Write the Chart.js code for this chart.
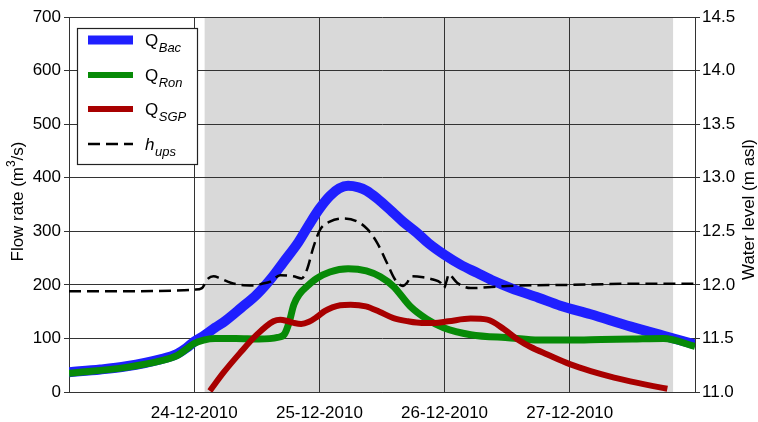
<!DOCTYPE html>
<html>
<head>
<meta charset="utf-8">
<script src="https://cdn.jsdelivr.net/npm/chart.js@4/dist/chart.umd.min.js"></script>
<style>
  html, body { margin: 0; padding: 0; background: #fff; }
  #wrap { width: 758px; height: 422px; }
</style>
</head>
<body>
<div id="wrap"><canvas id="c" width="758" height="422"></canvas></div>
<script>
// Time axis: hours since 23-12-2010 00:00
const dayTicks = [0, 24, 48, 72, 96, 120];
const dayLabels = ['', '24-12-2010', '25-12-2010', '26-12-2010', '27-12-2010', ''];
const eventWindow = [26, 115.8]; // shaded period (hours)

// Discharge of the Bacchiglione (m3/s)
const hoursBac = [0, 6, 11, 17.5, 20.7, 22.5, 24, 26, 28, 30, 33, 36, 39, 41, 44, 46, 48, 50, 51.8, 53.5, 55.5, 57, 59, 62, 64, 66.7, 69, 72, 75, 78.3, 81, 84.7, 90, 94.2, 100, 107.7, 114, 120];
const flowBac  = [37, 42, 48, 61, 71, 82, 94, 106, 120, 133, 157, 182, 215, 241, 280, 312, 342, 366, 380, 385, 382, 376, 362, 336, 318, 297, 277, 256, 238, 222, 209, 194, 176, 161, 145, 122, 105, 89];

// Discharge of the Roncajette (m3/s)
const hoursRon = [0, 11, 17.5, 20.7, 22.5, 23.9, 25.8, 28, 32, 36.4, 40, 41.3, 42.2, 43.1, 44.2, 45.6, 47.5, 50, 53.5, 57, 59.7, 62.2, 65.4, 68.6, 71.8, 77, 84.7, 90, 96, 102, 108, 114, 120];
const flowRon  = [35, 46, 58, 68, 80, 90, 97, 100, 100, 99, 102, 108, 130, 163, 183, 197, 212, 224, 230, 226, 215, 197, 160, 136, 120, 107, 101, 97, 97, 98, 99, 100, 85];

// Discharge through the San Gregorio diversion (m3/s)
const hoursSGP = [27, 29.6, 32.8, 36, 39.2, 40.5, 42, 43.1, 44.5, 46, 47.5, 49, 50.5, 52, 54, 56.9, 59.5, 62.2, 65, 67.6, 70, 72.7, 77, 80.2, 83.4, 86, 88.5, 91.7, 96, 100, 104.5, 109, 112, 114.7];
const flowSGP  = [2, 36, 73, 107, 132, 135, 132, 129, 127, 131, 140, 151, 158, 162, 163, 160, 150, 138, 132, 129, 129, 132, 137, 135, 117, 98, 84, 70, 52, 39, 27, 17, 11, 6];

// Upstream water level (m asl)
const hoursUps = [0, 12, 22, 24, 25.5, 26.5, 27.7, 29, 31, 33, 35.4, 37, 38.6, 40.5, 43, 44.6, 45.6, 46.9, 48.2, 50, 52.6, 55.3, 57.2, 59.1, 61, 62.5, 64, 64.8, 65.6, 67.9, 69.8, 71.2, 71.9, 72.4, 72.8, 73.3, 74.4, 77, 84, 96, 108, 120];
const levelUps = [11.94, 11.94, 11.95, 11.955, 11.97, 12.05, 12.08, 12.06, 12.02, 12.0, 11.995, 12.01, 12.03, 12.09, 12.08, 12.06, 12.14, 12.36, 12.52, 12.59, 12.62, 12.59, 12.52, 12.39, 12.2, 12.05, 11.99, 12.02, 12.08, 12.07, 12.05, 12.02, 11.97, 12.04, 12.1, 12.08, 12.02, 11.97, 11.99, 12.0, 12.01, 12.01];

const FONT = '"Liberation Sans", Arial, sans-serif';
const GRID = '#333333';

const COL_BAC = '#1f1fff';
const COL_RON = '#078a07';
const COL_SGP = '#a80000';
const COL_UPS = '#000000';

const pts = (xs, ys) => xs.map((x, i) => ({ x, y: ys[i] }));

const backgroundPlugin = {
  id: 'eventShade',
  beforeDraw(chart) {
    const { ctx, chartArea: a, scales } = chart;
    ctx.save();
    ctx.fillStyle = '#ffffff';
    ctx.fillRect(0, 0, chart.width, chart.height);
    const x0 = scales.x.getPixelForValue(eventWindow[0]);
    const x1 = scales.x.getPixelForValue(eventWindow[1]);
    ctx.fillStyle = '#d9d9d9';
    ctx.fillRect(x0, a.top, x1 - x0, a.bottom - a.top);
    ctx.restore();
  }
};

const titlesPlugin = {
  id: 'axisTitles',
  afterDraw(chart) {
    const { ctx, chartArea: a } = chart;
    const cy = (a.top + a.bottom) / 2;
    const big = '17px ' + FONT, small = '12px ' + FONT;
    ctx.save();
    ctx.fillStyle = '#000';
    ctx.textBaseline = 'middle';
    // left title, with a raised "3"
    ctx.translate(18, cy - 3);
    ctx.rotate(-Math.PI / 2);
    const p1 = 'Flow rate (m', p2 = '3', p3 = '/s)';
    ctx.font = big; const w1 = ctx.measureText(p1).width, w3 = ctx.measureText(p3).width;
    ctx.font = small; const w2 = ctx.measureText(p2).width;
    let x = -(w1 + w2 + w3) / 2;
    ctx.textAlign = 'left';
    ctx.font = big; ctx.fillText(p1, x, 0); x += w1;
    ctx.font = small; ctx.fillText(p2, x, -6); x += w2;
    ctx.font = big; ctx.fillText(p3, x, 0);
    ctx.restore();

    ctx.save();
    ctx.fillStyle = '#000';
    ctx.textBaseline = 'middle';
    ctx.textAlign = 'center';
    ctx.font = big;
    ctx.translate(749, cy + 5);
    ctx.rotate(-Math.PI / 2);
    ctx.fillText('Water level (m asl)', 0, 0);
    ctx.restore();
  }
};

const legendItems = [
  { main: 'Q', sub: 'Bac', color: COL_BAC, width: 9, dash: [], italicMain: false },
  { main: 'Q', sub: 'Ron', color: COL_RON, width: 6, dash: [], italicMain: false },
  { main: 'Q', sub: 'SGP', color: COL_SGP, width: 6, dash: [], italicMain: false },
  { main: 'h', sub: 'ups', color: COL_UPS, width: 2.5, dash: [12, 6], italicMain: true }
];

const legendPlugin = {
  id: 'subscriptLegend',
  afterDraw(chart) {
    const { ctx } = chart;
    ctx.save();
    ctx.fillStyle = '#fff';
    ctx.fillRect(77, 28, 120, 136);
    ctx.strokeStyle = '#222';
    ctx.lineWidth = 1.2;
    ctx.strokeRect(77.5, 28.5, 120, 136);
    const rows = [40, 75, 109, 144];
    legendItems.forEach((it, i) => {
      const y = rows[i];
      ctx.beginPath();
      ctx.setLineDash(it.dash);
      ctx.lineWidth = it.width;
      ctx.strokeStyle = it.color;
      ctx.lineCap = 'butt';
      ctx.moveTo(88, y);
      ctx.lineTo(133, y);
      ctx.stroke();
      ctx.setLineDash([]);
      ctx.fillStyle = '#000';
      ctx.textBaseline = 'alphabetic';
      ctx.textAlign = 'left';
      ctx.font = (it.italicMain ? 'italic ' : '') + '17px ' + FONT;
      ctx.fillText(it.main, 145, y + 6);
      const w = ctx.measureText(it.main).width;
      ctx.font = 'italic 13px ' + FONT;
      ctx.fillText(it.sub, 145 + w + 0.5, y + 12);
    });
    ctx.restore();
  }
};

const baseLine = {
  pointRadius: 0,
  pointHoverRadius: 0,
  fill: false,
  cubicInterpolationMode: 'monotone',
  borderCapStyle: 'butt',
  borderJoinStyle: 'round',
  clip: 0
};

new Chart(document.getElementById('c'), {
  type: 'line',
  data: {
    datasets: [
      Object.assign({}, baseLine, { label: 'Q_Bac', data: pts(hoursBac, flowBac), borderColor: COL_BAC, borderWidth: 10, yAxisID: 'y', order: 4 }),
      Object.assign({}, baseLine, { label: 'Q_Ron', data: pts(hoursRon, flowRon), borderColor: COL_RON, borderWidth: 7, yAxisID: 'y', order: 3 }),
      Object.assign({}, baseLine, { label: 'Q_SGP', data: pts(hoursSGP, flowSGP), borderColor: COL_SGP, borderWidth: 6, yAxisID: 'y', order: 2 }),
      Object.assign({}, baseLine, { label: 'h_ups', data: pts(hoursUps, levelUps), borderColor: COL_UPS, borderWidth: 2.5, borderDash: [12, 6], yAxisID: 'y2', order: 1 })
    ]
  },
  options: {
    responsive: false,
    animation: false,
    events: [],
    layout: { padding: { top: 17, left: 0, right: 0, bottom: 0 } },
    plugins: { legend: { display: false }, tooltip: { enabled: false } },
    scales: {
      x: {
        type: 'linear',
        min: 0, max: 120,
        afterBuildTicks(scale) { scale.ticks = dayTicks.map(v => ({ value: v })); },
        afterFit(scale) { scale.height = 30; },
        ticks: {
          autoSkip: false, maxRotation: 0, padding: 11,
          color: '#000', font: { family: FONT, size: 17 },
          callback: (v) => dayLabels[dayTicks.indexOf(v)] ?? ''
        },
        grid: { color: GRID, lineWidth: 1, drawTicks: false },
        border: { color: GRID, width: 1 }
      },
      y: {
        position: 'left',
        min: 0, max: 700,
        afterFit(scale) { scale.width = 69; },
        ticks: { stepSize: 100, padding: 3, color: '#000', font: { family: FONT, size: 17 } },
        grid: { color: GRID, lineWidth: 1, tickLength: 5 },
        border: { color: GRID, width: 1 }
      },
      y2: {
        position: 'right',
        min: 11, max: 14.5,
        afterFit(scale) { scale.width = 63; },
        ticks: { stepSize: 0.5, padding: 2, color: '#000', font: { family: FONT, size: 17 }, callback: (v) => Number(v).toFixed(1) },
        grid: { color: GRID, lineWidth: 1, tickLength: 5, drawOnChartArea: false },
        border: { color: GRID, width: 1 }
      }
    }
  },
  plugins: [backgroundPlugin, titlesPlugin, legendPlugin]
});
</script>
</body>
</html>
